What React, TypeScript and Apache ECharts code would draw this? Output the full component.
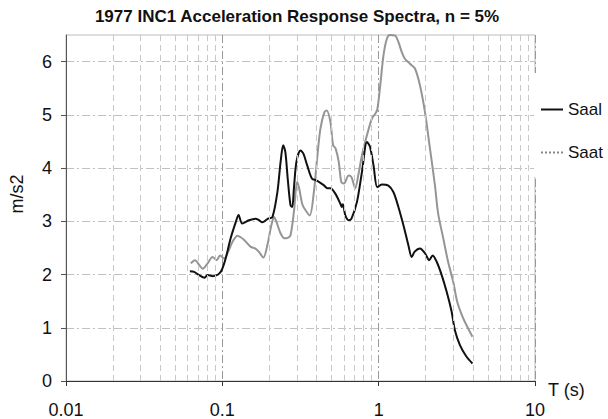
import React, { useEffect, useRef } from "react";
import * as echarts from "echarts";

const titleText = "1977 INC1 Acceleration Response Spectra, n = 5%";
const yTicks = [0, 1, 2, 3, 4, 5, 6];
const minorT = [0.02, 0.03, 0.04, 0.05, 0.06, 0.07, 0.08, 0.09, 0.2, 0.3, 0.4, 0.5, 0.6, 0.7, 0.8, 0.9, 2, 3, 4, 5, 6, 7, 8, 9];

const saalT = [0.062, 0.066, 0.071, 0.077, 0.0805, 0.087, 0.094, 0.099, 0.105, 0.113, 0.122, 0.127, 0.134, 0.148, 0.163, 0.172, 0.18, 0.196, 0.209, 0.225, 0.236, 0.245, 0.253, 0.262, 0.273, 0.28, 0.287, 0.298, 0.316, 0.33, 0.349, 0.375, 0.4, 0.445, 0.47, 0.491, 0.528, 0.569, 0.58, 0.59, 0.612, 0.642, 0.67, 0.727, 0.782, 0.842, 0.88, 0.927, 0.98, 1.048, 1.154, 1.242, 1.337, 1.439, 1.549, 1.627, 1.7, 1.838, 1.978, 2.106, 2.214, 2.35, 2.53, 2.72, 2.93, 3.07, 3.31, 3.64, 3.98];
const saalV = [2.06, 2.05, 1.99, 1.94, 1.99, 1.97, 2.0, 2.08, 2.3, 2.68, 2.99, 3.12, 2.96, 3.02, 3.05, 3.02, 2.98, 3.05, 3.08, 3.55, 4.12, 4.43, 4.3, 3.8, 3.3, 3.27, 3.62, 4.12, 4.33, 4.27, 4.05, 3.8, 3.77, 3.68, 3.62, 3.62, 3.52, 3.33, 3.27, 3.32, 3.11, 3.02, 3.05, 3.37, 3.93, 4.49, 4.4, 4.05, 3.64, 3.69, 3.67, 3.55, 3.27, 2.93, 2.55, 2.33, 2.43, 2.49, 2.4, 2.27, 2.36, 2.24, 1.99, 1.68, 1.3, 0.96, 0.675, 0.46, 0.33];

const saatT = [0.0628, 0.0669, 0.0711, 0.0748, 0.0805, 0.0866, 0.092, 0.0967, 0.1027, 0.109, 0.116, 0.125, 0.131, 0.138, 0.152, 0.162, 0.171, 0.183, 0.194, 0.206, 0.214, 0.222, 0.236, 0.25, 0.262, 0.273, 0.287, 0.301, 0.31, 0.324, 0.335, 0.362, 0.385, 0.404, 0.424, 0.45, 0.465, 0.491, 0.511, 0.53, 0.555, 0.577, 0.6, 0.642, 0.67, 0.708, 0.74, 0.782, 0.842, 0.905, 0.95, 0.98, 1.023, 1.074, 1.128, 1.18, 1.274, 1.337, 1.405, 1.475, 1.585, 1.706, 1.838, 1.978, 2.128, 2.29, 2.4, 2.59, 2.78, 3.0, 3.18, 3.47, 3.73, 3.98];
const saatV = [2.21, 2.27, 2.18, 2.11, 2.21, 2.33, 2.27, 2.36, 2.3, 2.43, 2.61, 2.73, 2.7, 2.65, 2.52, 2.49, 2.43, 2.32, 2.55, 2.93, 3.08, 2.99, 2.77, 2.68, 2.69, 2.74, 3.18, 3.74, 3.62, 3.33, 3.24, 3.11, 3.55, 4.18, 4.74, 5.05, 5.08, 4.87, 4.43, 4.37, 4.12, 3.74, 3.71, 3.86, 3.83, 3.62, 3.86, 4.24, 4.62, 4.93, 5.02, 5.1, 5.55, 6.12, 6.43, 6.5, 6.49, 6.37, 6.18, 6.05, 5.96, 5.87, 5.55, 5.05, 4.37, 3.68, 3.15, 2.68, 2.24, 1.86, 1.49, 1.18, 0.99, 0.83];

const FONT = "'Liberation Sans', Arial, sans-serif";
const dottedIcon =
  "path://M0,0h2v2h-2z M4,0h2v2h-2z M8,0h2v2h-2z M12,0h2v2h-2z M16,0h2v2h-2z M20,0h2v2h-2z";

export default function App() {
  const ref = useRef<HTMLDivElement>(null);
  useEffect(() => {
    if (!ref.current) return;
    const chart = echarts.init(ref.current, null, { renderer: "svg" });
    const zip = (t: number[], v: number[]) => t.map((x, i) => [x, v[i]]);
    chart.setOption({
      animation: false,
      backgroundColor: "#fff",
      textStyle: { fontFamily: FONT },
      title: {
        text: titleText,
        left: 292,
        textAlign: "center",
        top: 3,
        textStyle: { fontSize: 17, fontWeight: "bold", color: "#111", fontFamily: FONT },
      },
      legend: {
        orient: "vertical",
        left: 534,
        top: 73,
        backgroundColor: "#fff",
        padding: [28, 8, 16, 7],
        itemWidth: 22,
        itemHeight: 2,
        itemGap: 26,
        textStyle: { fontSize: 17, color: "#111", fontFamily: FONT },
        data: [
          { name: "Saal", icon: "rect", itemStyle: { color: "#111" } },
          { name: "Saat", icon: dottedIcon, itemStyle: { color: "#888" } },
        ],
      },
      grid: {
        left: 63,
        right: 73,
        top: 35,
        bottom: 36,
        show: true,
        borderColor: "#bbb",
        borderWidth: 1,
      },
      xAxis: {
        type: "log",
        logBase: 10,
        min: 0.01,
        max: 10,
        name: "T (s)",
        nameLocation: "end",
        nameGap: 13,
        nameTextStyle: { fontSize: 18, color: "#111", verticalAlign: "top", fontFamily: FONT },
        axisLine: { lineStyle: { color: "#333", width: 1 } },
        axisTick: { show: true, length: 5, lineStyle: { color: "#333" } },
        minorTick: { show: false },
        axisLabel: { fontSize: 18, color: "#111", margin: 20, fontFamily: FONT },
        splitLine: { show: true, lineStyle: { color: "#999", type: [8, 3, 2, 3], width: 1 } },
        minorSplitLine: { show: false },
      },
      yAxis: {
        type: "value",
        min: 0,
        max: 6.5,
        interval: 1,
        name: "m/s2",
        nameLocation: "middle",
        nameGap: 40,
        nameRotate: 90,
        nameTextStyle: { fontSize: 18, color: "#111", padding: [0, 0, 0, 28], fontFamily: FONT },
        axisLine: { show: true, lineStyle: { color: "#555", width: 1 } },
        axisTick: { show: true, length: 5, customValues: yTicks, lineStyle: { color: "#555" } },
        axisLabel: { fontSize: 18, color: "#111", margin: 14, customValues: yTicks, fontFamily: FONT },
        splitLine: { show: true, lineStyle: { color: "#c0c0c0", type: [8, 3, 2, 3], width: 1 } },
      },
      series: [
        {
          name: "grid",
          type: "line",
          data: [],
          silent: true,
          z: 1,
          markLine: {
            silent: true,
            symbol: ["none", "none"],
            label: { show: false },
            emphasis: { disabled: true },
            lineStyle: { color: "#c8c8c8", type: [6, 4], width: 1 },
            data: minorT.map((t) => ({ xAxis: t })),
          },
        },
        {
          name: "ticks",
          type: "line",
          data: [],
          silent: true,
          z: 4,
          markLine: {
            silent: true,
            symbol: ["none", "none"],
            label: { show: false },
            emphasis: { disabled: true },
            lineStyle: { color: "#444", type: "solid", width: 1 },
            data: minorT.map((t) => [{ coord: [t, -0.08] }, { coord: [t, 0.08] }]),
          },
        },
        {
          name: "Saal",
          type: "line",
          data: zip(saalT, saalV),
          showSymbol: false,
          symbol: "none",
          smooth: 0.3,
          lineStyle: { color: "#111", width: 2 },
          itemStyle: { color: "#111" },
          z: 3,
        },
        {
          name: "Saat",
          type: "line",
          data: zip(saatT, saatV),
          showSymbol: false,
          symbol: "none",
          smooth: 0.3,
          lineStyle: { color: "#959595", width: 2 },
          itemStyle: { color: "#959595" },
          z: 2,
        },
      ],
    });
    return () => chart.dispose();
  }, []);
  return <div ref={ref} style={{ width: 608, height: 419, position: "absolute", left: 0, top: 0 }} />;
}
